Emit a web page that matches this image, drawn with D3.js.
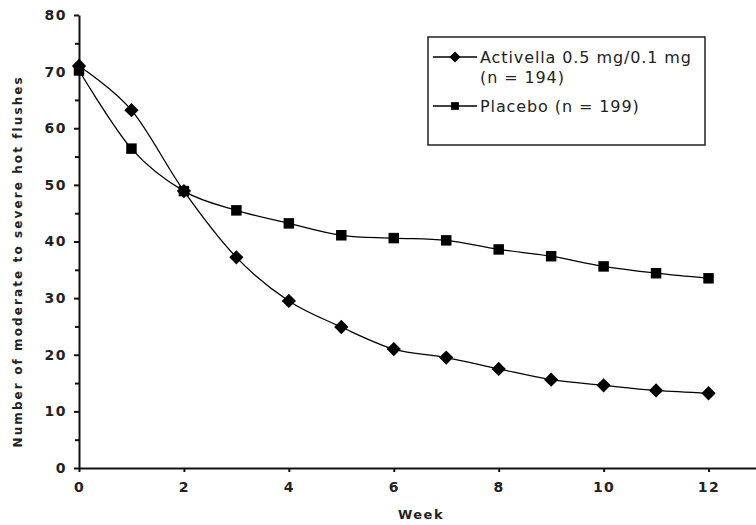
<!DOCTYPE html>
<html lang="en">
<head>
    <meta charset="UTF-8">
    <title>Hot flushes by week</title>
    <style>
        body { margin: 0; background: #fff; }
        .tick text { font-family: "DejaVu Sans", sans-serif; font-weight: bold; font-size: 14px; letter-spacing: 1.5px; fill: #222; }
        .domain, .tick line { stroke: #111; stroke-width: 2px; }
        .series { fill: none; stroke: #000; stroke-width: 1.3px; }
        .axis-title { font-family: "DejaVu Sans", sans-serif; font-weight: bold; fill: #222; }
        .legend-text { font-family: "DejaVu Sans", sans-serif; font-size: 16px; letter-spacing: 0.9px; fill: #222; }
    </style>
</head>
<body>
    <script src="https://d3js.org/d3.v7.min.js"></script>
    <script>
        const weeks = [0, 1, 2, 3, 4, 5, 6, 7, 8, 9, 10, 11, 12];
        const activella = [71, 63.2, 48.9, 37.2, 29.5, 24.9, 21, 19.5, 17.5, 15.6, 14.6, 13.7, 13.2];
        const placebo = [70.2, 56.4, 48.9, 45.5, 43.2, 41.1, 40.6, 40.2, 38.6, 37.4, 35.6, 34.4, 33.5];
        const xTicks = [0, 2, 4, 6, 8, 10, 12];
        const yTicks = [0, 10, 20, 30, 40, 50, 60, 70, 80];
        const yMinorTicks = [5, 15, 25, 35, 45, 55, 65, 75];
        const legendLabels = [["Activella 0.5 mg/0.1 mg", "(n = 194)"], ["Placebo (n = 199)"]];

        const width = 756;
        const height = 525;

        const x = d3.scaleLinear().domain([0, 13]).range([79, 761]);
        const y = d3.scaleLinear().domain([0, 80]).range([468, 15]);

        const svg = d3.select("body").append("svg")
            .attr("width", width)
            .attr("height", height);

        // axes
        svg.append("g")
            .attr("transform", `translate(0,${y(0)})`)
            .call(d3.axisBottom(x).tickValues(xTicks).tickSize(4).tickSizeOuter(0).tickPadding(10));

        svg.append("g")
            .attr("transform", `translate(${x(0)},0)`)
            .call(d3.axisLeft(y).tickValues(yTicks).tickSize(5).tickSizeOuter(0).tickPadding(7));

        svg.append("g")
            .attr("transform", `translate(${x(0)},0)`)
            .call(d3.axisLeft(y).tickValues(yMinorTicks).tickSize(4).tickFormat(""))
            .select(".domain").remove();

        svg.append("text")
            .attr("class", "axis-title")
            .attr("transform", `translate(22,${y(36.5)}) rotate(-90)`)
            .attr("text-anchor", "middle")
            .attr("font-size", 12)
            .attr("letter-spacing", "2.1px")
            .text("Number of moderate to severe hot flushes");

        svg.append("text")
            .attr("class", "axis-title")
            .attr("x", 421)
            .attr("y", 519)
            .attr("text-anchor", "middle")
            .attr("font-size", 13)
            .attr("letter-spacing", "1.5px")
            .text("Week");

        const line = d3.line()
            .x((d, i) => x(weeks[i]))
            .y(d => y(d))
            .curve(d3.curveCatmullRom.alpha(0));

        const diamond = d3.symbol().type(d3.symbolDiamond2).size(130);
        const square = d3.symbol().type(d3.symbolSquare).size(110);

        function drawSeries(values, symbol) {
            svg.append("path").attr("class", "series").attr("d", line(values));
            svg.append("g").selectAll("path")
                .data(values)
                .join("path")
                .attr("d", symbol)
                .attr("fill", "#000")
                .attr("transform", (d, i) => `translate(${x(weeks[i])},${y(d)})`);
        }
        drawSeries(placebo, square);
        drawSeries(activella, diamond);

        // legend
        const legend = svg.append("g");
        legend.append("rect")
            .attr("x", 428).attr("y", 37)
            .attr("width", 277).attr("height", 108)
            .attr("fill", "#fff")
            .attr("stroke", "#222")
            .attr("stroke-width", 1.5);

        const legendRows = [
            { label: legendLabels[0], y: 57, symbol: d3.symbol().type(d3.symbolDiamond2).size(80) },
            { label: legendLabels[1], y: 106, symbol: d3.symbol().type(d3.symbolSquare).size(60) }
        ];
        legendRows.forEach(r => {
            legend.append("line")
                .attr("x1", 433).attr("x2", 477)
                .attr("y1", r.y).attr("y2", r.y)
                .attr("stroke", "#000").attr("stroke-width", 1.5);
            legend.append("path")
                .attr("d", r.symbol)
                .attr("transform", `translate(455,${r.y})`);
            r.label.forEach((t, k) => {
                legend.append("text")
                    .attr("class", "legend-text")
                    .attr("x", 480)
                    .attr("y", r.y + 6 + k * 20)
                    .text(t);
            });
        });
    </script>
</body>
</html>
